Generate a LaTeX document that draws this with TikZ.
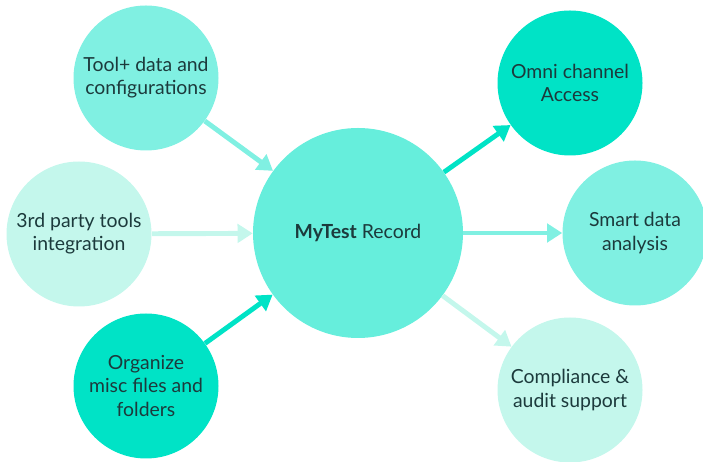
\documentclass[tikz,border=0pt]{standalone}
\usepackage{fontspec}
\setmainfont{Lato}
\usetikzlibrary{arrows.meta}
\definecolor{tealstrong}{RGB}{0,227,198}
\definecolor{tealmid}{RGB}{128,240,226}
\definecolor{teallight}{RGB}{196,247,236}
\definecolor{tealcore}{RGB}{102,238,220}
\definecolor{inktext}{RGB}{28,58,60}
\begin{document}
\begin{tikzpicture}[
        bubble/.style={circle, inner sep=0pt, minimum size=3.625cm, align=center, text=inktext, font=\fontsize{13.8}{16.4}\selectfont},
        core/.style={bubble, minimum size=5.25cm, fill=tealcore},
        link/.style={line width=3.5pt, -{Triangle[length=3.8mm, width=4.6mm]}}
    ]
        \useasboundingbox (0, 0) rectangle (17.575, 11.55);

        % centre record
        \node[core] (record) at (8.95, 5.725) {\textbf{MyTest} Record};

        % inputs on the left
        \node[bubble, fill=tealmid] (tooldata) at (3.65, 9.6) {Tool+ data and\\configurations};
        \node[bubble, fill=teallight] (thirdparty) at (1.975, 5.7) {3rd party tools\\integration};
        \node[bubble, fill=tealstrong] (organize) at (3.65, 1.9) {Organize\\misc files and\\folders};

        % outputs on the right
        \node[bubble, fill=tealstrong] (omni) at (14.25, 9.475) {Omni channel\\Access};
        \node[bubble, fill=tealmid] (smart) at (15.875, 5.725) {Smart data\\analysis};
        \node[bubble, fill=teallight] (compliance) at (14.25, 1.8) {Compliance \&\\audit support};

        % arrows into the record
        \draw[link, tealmid] (tooldata) -- (record);
        \draw[link, teallight] (thirdparty) -- (record);
        \draw[link, tealstrong] (organize) -- (record);

        % arrows out of the record
        \draw[link, tealstrong] (record) -- (omni);
        \draw[link, tealmid] (record) -- (smart);
        \draw[link, teallight] (record) -- (compliance);

    \end{tikzpicture}
\end{document}
